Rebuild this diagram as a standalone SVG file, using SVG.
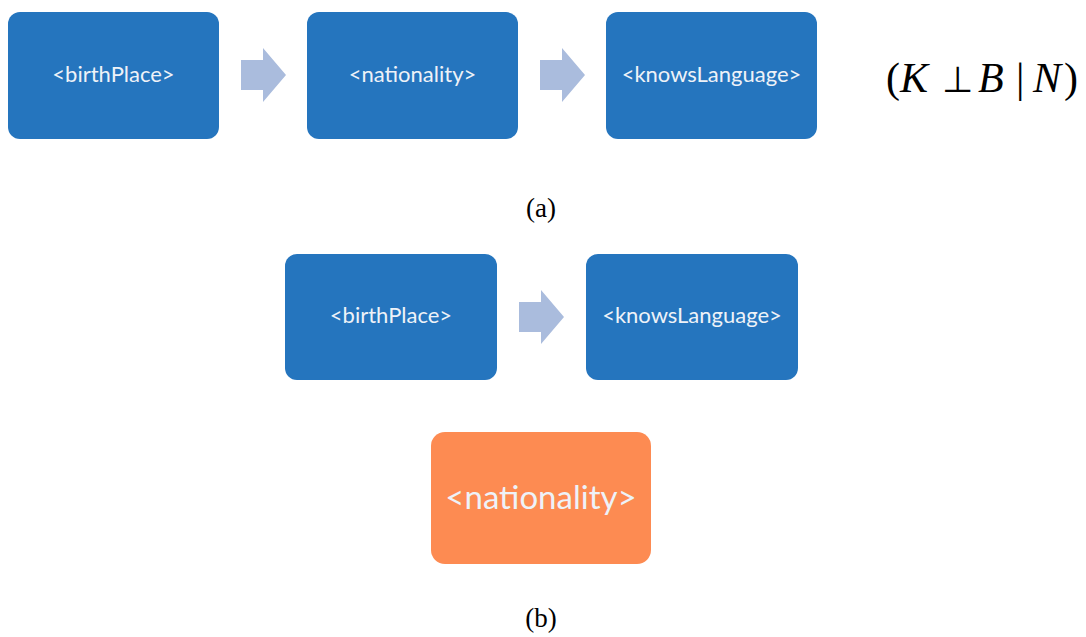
<svg xmlns="http://www.w3.org/2000/svg" width="1086" height="637" viewBox="0 0 1086 637">
<style>
.blue{fill:#2575BE}
.orange{fill:#FD8B52}
.arr{fill:#AABCDD}
.lbl{font-family:Lato,"Liberation Sans",sans-serif;fill:#EEF2F8;text-anchor:middle;font-size:22px}
.big{font-size:33px}
.cap{font-family:"Liberation Serif",serif;font-size:27px;text-anchor:middle;fill:#000}
.math{font-family:"Liberation Serif",serif;font-size:42px;fill:#000}
.it{font-style:italic}
</style>
<defs>
<path id="fat" d="M0,12 H22 V0 L45,27 L22,54 V42 H0 Z"/>
</defs>
<g id="a-birthPlace"><rect class="blue" x="8" y="12" width="211" height="127" rx="12"/><text class="lbl" x="113.5" y="82">&lt;birthPlace&gt;</text></g>
<g id="a-nationality"><rect class="blue" x="307" y="12" width="211" height="127" rx="12"/><text class="lbl" x="412.5" y="82">&lt;nationality&gt;</text></g>
<g id="a-knowsLanguage"><rect class="blue" x="606" y="12" width="211" height="127" rx="12"/><text class="lbl" x="711.5" y="82">&lt;knowsLanguage&gt;</text></g>
<g id="b-birthPlace"><rect class="blue" x="285" y="254" width="212" height="126" rx="12"/><text class="lbl" x="391" y="323">&lt;birthPlace&gt;</text></g>
<g id="b-knowsLanguage"><rect class="blue" x="586" y="254" width="212" height="126" rx="12"/><text class="lbl" x="692" y="323">&lt;knowsLanguage&gt;</text></g>
<g id="b-nationality"><rect class="orange" x="431" y="432" width="220" height="132" rx="14"/><text class="lbl big" x="541" y="509">&lt;nationality&gt;</text></g>
<g id="connectors">
<use class="arr" href="#fat" x="241" y="48"/>
<use class="arr" href="#fat" x="540" y="48"/>
<use class="arr" href="#fat" x="519" y="290"/>
</g>
<g id="formula"><text class="math" y="92"><tspan x="886">(</tspan><tspan class="it" x="900">K</tspan><tspan x="942" font-size="36">⊥</tspan><tspan class="it" x="978">B</tspan><tspan x="1016">|</tspan><tspan class="it" x="1033">N</tspan><tspan x="1064">)</tspan></text></g>
<text class="cap" x="541" y="217">(a)</text>
<text class="cap" x="541" y="627">(b)</text>
</svg>
